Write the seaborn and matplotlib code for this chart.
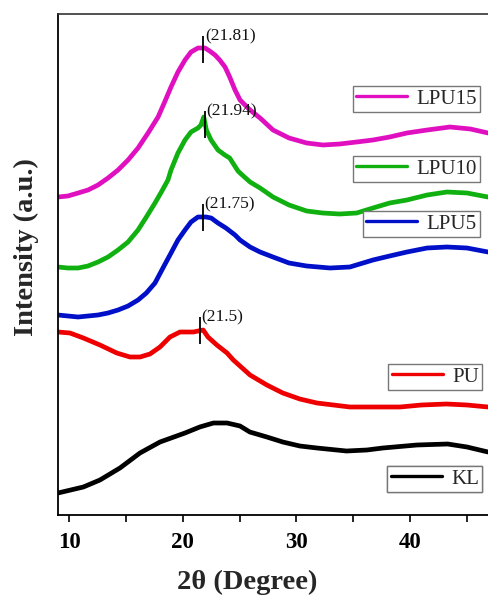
import matplotlib
matplotlib.use("Agg")
import matplotlib.pyplot as plt
from matplotlib.lines import Line2D
import pandas as pd
import seaborn as sns

# XRD patterns (2θ in degrees, stacked intensity in a.u.)
lpu15_x = [9.03, 9.9, 10.8, 11.67, 12.55, 13.43, 14.31, 15.19, 16.07, 16.95, 17.83, 18.41,
           18.97, 19.58, 20.2, 20.73, 21.34, 21.96, 22.37, 22.84, 23.25, 23.72, 24.13, 24.6,
           25.04, 25.92, 26.8, 27.94, 29.35, 30.9, 32.34, 33.8, 35.3, 36.73, 38.2, 39.72,
           41.5, 43.5, 45.3, 46.85]
lpu15_y = [318, 319, 322, 325, 330, 337, 345, 355, 367, 382, 398, 413,
           428, 443, 455, 463, 467, 467, 464, 460, 455, 448, 438, 425,
           415, 405, 397, 385, 377, 372, 370, 371, 373, 375, 378, 382,
           385, 388, 386, 382]

lpu10_x = [9.03, 9.9, 10.8, 11.67, 12.55, 13.43, 14.31, 15.19, 16.07, 16.8, 17.56, 18.12,
           18.7, 18.97, 19.58, 20.2, 20.73, 21.34, 21.6, 21.85, 22.08, 22.49, 23.1, 23.7,
           24.13, 24.86, 25.04, 25.92, 26.8, 27.94, 29.35, 30.9, 32.3, 33.8, 35.3, 36.73,
           38.2, 39.72, 41.5, 43.24, 45.0, 46.85]
lpu10_y = [248, 247, 247, 249, 253, 258, 265, 273, 285, 298, 312, 323,
           335, 345, 362, 375, 383, 387, 390, 398, 385, 375, 365, 360,
           357, 344, 342, 333, 327, 318, 310, 304, 302, 301, 302, 307,
           312, 315, 320, 323, 322, 318]

lpu5_x = [9.03, 9.9, 10.8, 11.67, 12.55, 13.43, 14.31, 15.19, 16.07, 16.8, 17.56, 18.26,
          18.97, 19.58, 20.2, 20.73, 21.34, 22.05, 22.5, 23.1, 23.8, 24.6, 25.04, 25.92,
          26.8, 27.94, 29.35, 30.9, 32.95, 34.7, 36.73, 38.2, 39.72, 41.5, 43.24, 45.0, 46.85]
lpu5_y = [200, 199, 198, 199, 200, 202, 205, 209, 215, 222, 232, 247,
          262, 275, 285, 293, 298, 298, 297, 292, 287, 280, 275, 268,
          263, 258, 252, 249, 247, 248, 255, 259, 263, 267, 268, 267, 263]

pu_x = [9.03, 10.08, 11.26, 12.72, 14.2, 15.36, 16.24, 17.12, 18.0, 18.88, 19.76, 20.93,
        21.8, 22.22, 23.0, 23.9, 24.45, 25.92, 27.4, 28.8, 30.3, 31.8, 34.7, 37.0,
        39.1, 41.0, 43.2, 45.0, 46.85]
pu_y = [183, 182, 177, 170, 162, 158, 158, 161, 168, 178, 183, 183,
        185, 178, 170, 162, 155, 140, 130, 122, 116, 112, 108, 108,
        108, 110, 111, 110, 108]

kl_x = [9.03, 11.26, 12.72, 14.48, 16.24, 18.0, 20.2, 21.5, 22.7, 23.9, 25.04, 25.9,
        27.4, 28.8, 30.3, 31.8, 34.4, 36.2, 37.6, 40.6, 43.3, 45.0, 46.85]
kl_y = [22, 28, 35, 47, 62, 73, 82, 88, 92, 92, 89, 83,
        78, 73, 69, 67, 64, 65, 67, 70, 71, 68, 63]

samples = ["LPU15", "LPU10", "LPU5", "PU", "KL"]
colors = ["#E010C0", "#10B010", "#0010C8", "#EE0000", "#000000"]

# Peak positions marked on the patterns
peak_pos = [21.81, 21.94, 21.75, 21.5]
peak_level = [466, 391, 298, 185]

series = {
    "LPU15": (lpu15_x, lpu15_y),
    "LPU10": (lpu10_x, lpu10_y),
    "LPU5": (lpu5_x, lpu5_y),
    "PU": (pu_x, pu_y),
    "KL": (kl_x, kl_y),
}
frames = [pd.DataFrame({"two_theta": xs, "intensity": ys, "sample": name})
          for name, (xs, ys) in series.items()]
df = pd.concat(frames, ignore_index=True)

sns.set_theme(style="ticks")
plt.rcParams["font.family"] = ["Liberation Serif", "DejaVu Serif"]

W, H = 488, 598
fig = plt.figure(figsize=(W / 100, H / 100), dpi=100)
ax = fig.add_axes([58 / W, 1 - 515 / H, (W - 58) / W, (515 - 14) / H])

sns.lineplot(data=df, x="two_theta", y="intensity", hue="sample",
             hue_order=samples, palette=colors, sort=False, estimator=None,
             linewidth=3.4, legend=False, ax=ax,
             solid_joinstyle="round", solid_capstyle="round")

# peak markers with their positions
for p, lev in zip(peak_pos, peak_level):
    ax.vlines(p, lev - 13.5, lev + 13.5, color="black", linewidth=1.3, zorder=5)
    ax.text(p + 0.15, lev + 13, f"({p:g})", fontsize=12.5, ha="left",
            va="center", color="#111111", zorder=6)

ax.set_xlim(9.03, 46.85)
ax.set_ylim(0, 501)
ax.set_yticks([])
ax.set_xticks([10, 20, 30, 40])
ax.set_xticks([15, 25, 35, 45], minor=True)
ax.tick_params(axis="x", which="both", direction="out", length=5, width=1.2,
               colors="black", pad=7, labelsize=16.5)
plt.setp(ax.get_xticklabels(), fontweight="bold")

for side in ["left", "bottom"]:
    ax.spines[side].set_linewidth(1.3)
    ax.spines[side].set_color("black")
ax.spines["top"].set_linewidth(1.2)
ax.spines["top"].set_color("#333333")
ax.spines["right"].set_visible(False)

ax.set_xlabel("2θ (Degree)", fontsize=20.5, fontweight="bold")
ax.set_ylabel("Intensity (a.u.)", fontsize=20.5, fontweight="bold")
ax.xaxis.set_label_coords((247 - 58) / (W - 58), -0.11)
ax.yaxis.set_label_coords(-0.045, 0.535)

# one boxed legend entry beside each pattern: (right edge px, top edge px)
legend_anchor = {
    "LPU15": (480, 86),
    "LPU10": (480, 156),
    "LPU5": (480, 211),
    "PU": (482, 364),
    "KL": (482, 466),
}
for name, col in zip(samples, colors):
    rx, ty = legend_anchor[name]
    handle = Line2D([0], [0], color=col, linewidth=2.4)
    leg = ax.legend([handle], [name], loc="upper right",
                    bbox_to_anchor=(rx / W, 1 - ty / H), bbox_transform=fig.transFigure,
                    borderaxespad=0, borderpad=0.15, handlelength=2.45,
                    handletextpad=0.45, fontsize=15, fancybox=False,
                    framealpha=1, edgecolor="#777777", frameon=True)
    leg.get_frame().set_linewidth(1.0)
    ax.add_artist(leg)

fig.savefig("out.png", dpi=100)
